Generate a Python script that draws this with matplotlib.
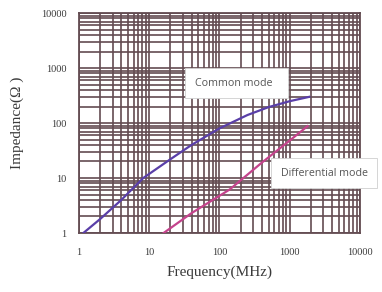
import numpy as np
import matplotlib
matplotlib.use("Agg")
import matplotlib.pyplot as plt
from matplotlib.ticker import LogLocator, FixedLocator, NullFormatter

# Common mode impedance curve (MHz, Ohm)
cm_freq = [1.15, 2, 4, 8.2, 20, 40, 100, 250, 500, 1000, 1900]
cm_imp = [1.0, 1.8, 4.0, 10, 22, 40, 80, 140, 195, 250, 300]

# Differential mode impedance curve (MHz, Ohm)
dm_freq = [16, 40, 140, 400, 1000, 1800]
dm_imp = [1.0, 2.3, 6.2, 19, 48, 88]

x_ticks = [1, 10, 100, 1000, 10000]
x_labels = ["1", "10", "100", "1000", "10000"]
y_ticks = [1, 10, 100, 1000, 10000]
y_labels = ["1", "10", "100", "1000", "10000"]

grid_col = "#634c52"
text_col = "#3a3a3a"

fig = plt.figure(figsize=(3.82, 2.92), dpi=100)
ax = fig.add_axes([0.207, 0.202, 0.735, 0.753])

ax.set_xscale("log")
ax.set_yscale("log")
ax.set_xlim(1, 10000)
ax.set_ylim(1, 10000)

ax.xaxis.set_major_locator(FixedLocator(x_ticks))
ax.yaxis.set_major_locator(FixedLocator(y_ticks))
ax.set_xticklabels(x_labels)
ax.set_yticklabels(y_labels)
ax.xaxis.set_minor_locator(LogLocator(base=10, subs=np.arange(2, 10)))
ax.yaxis.set_minor_locator(LogLocator(base=10, subs=np.arange(2, 10)))
ax.xaxis.set_minor_formatter(NullFormatter())
ax.yaxis.set_minor_formatter(NullFormatter())

ax.grid(True, which="both", color=grid_col, linewidth=1.2)
ax.set_axisbelow(True)
for s in ax.spines.values():
    s.set_color(grid_col)
    s.set_linewidth(1.3)

ax.tick_params(which="both", length=0)
ax.tick_params(axis="x", pad=11, labelsize=7.5, labelcolor=text_col)
ax.tick_params(axis="y", pad=9, labelsize=7.5, labelcolor=text_col)
for lab in ax.get_xticklabels() + ax.get_yticklabels():
    lab.set_family("Liberation Serif")

ax.plot(cm_freq, cm_imp, color="#5a3fa8", linewidth=1.6, zorder=3)
ax.plot(dm_freq, dm_imp, color="#c4438c", linewidth=1.6, zorder=3)

box = dict(boxstyle="square,pad=0.9", facecolor="white", edgecolor="#cfcfcf", linewidth=0.6)
ax.text(45, 530, "Common mode  ", fontsize=7.7, color="#555555", family="Open Sans",
        ha="left", va="center", bbox=box, zorder=4)
ax.text(745, 12.3, "Differential mode", fontsize=7.7, color="#555555", family="Open Sans",
        ha="left", va="center", bbox=box, zorder=4, clip_on=False)

ax.set_xlabel("Frequency(MHz)", family="Liberation Serif", fontsize=11, color=text_col, labelpad=6)
ax.set_ylabel("Impedance(Ω )", family="Liberation Serif", fontsize=11, color=text_col, labelpad=12)

fig.savefig("out.png", dpi=100)
